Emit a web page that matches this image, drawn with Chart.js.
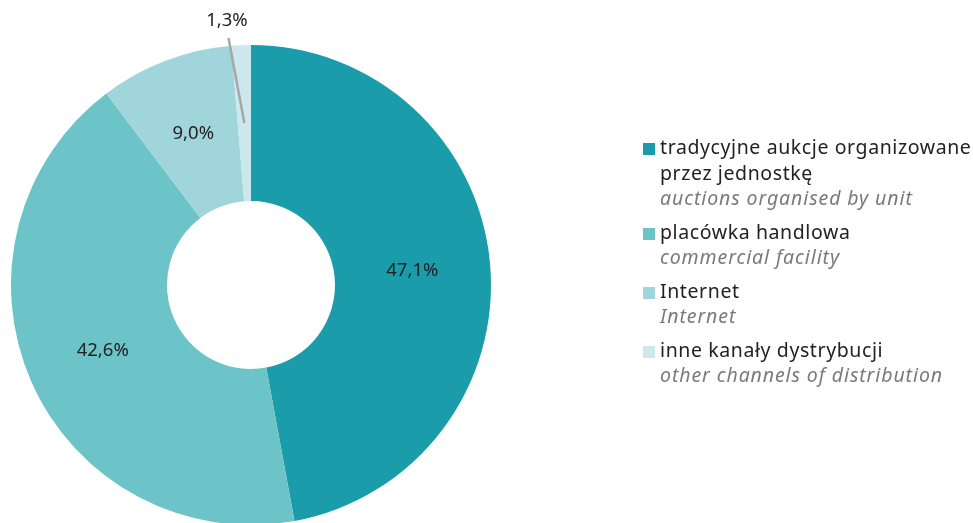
<!DOCTYPE html>
<html>
<head>
<meta charset="utf-8">
<script src="https://cdn.jsdelivr.net/npm/chart.js@4/dist/chart.umd.min.js"></script>
<style>
  html, body { margin: 0; padding: 0; background: #ffffff; }
  #wrap { position: relative; width: 973px; height: 523px; overflow: hidden; }
  #chart { position: absolute; left: 0; top: 0; }
  #legend { position: absolute; left: 643px; top: 134px; font-family: "Noto Sans", sans-serif; }
  .item { position: relative; padding-left: 17px; margin-bottom: 8px; }
  .sw { position: absolute; left: 0; top: 9px; width: 12px; height: 12px; }
  .pl { font-size: 19.5px; line-height: 25.5px; color: #222222; white-space: nowrap; letter-spacing: 0.6px; }
  .en { font-size: 19.5px; line-height: 25.5px; color: #7a7a7a; font-style: italic; white-space: nowrap; letter-spacing: 0.9px; }
</style>
</head>
<body>
<div id="wrap">
  <canvas id="chart" width="973" height="525"></canvas>
  <div id="legend"></div>
</div>
<script>
// Sales channels – shares in percent
const labelsPl = ["tradycyjne aukcje organizowane\nprzez jednostkę", "placówka handlowa", "Internet", "inne kanały dystrybucji"];
const labelsEn = ["auctions organised by unit", "commercial facility", "Internet", "other channels of distribution"];
const shares = [47.1, 42.6, 9.0, 1.3];
const colors = ["#1b9caa", "#6cc4c9", "#a0d5db", "#cce8ec"];

const fmt = v => v.toFixed(1).replace(".", ",") + "%";

// Percentage labels: inside the ring, or pulled outside with a leader line for tiny slices
const sliceLabels = {
  id: "sliceLabels",
  afterDatasetsDraw(chart) {
    const ctx = chart.ctx;
    const meta = chart.getDatasetMeta(0);
    ctx.save();
    ctx.font = '18.5px "Noto Sans", sans-serif';
    ctx.fillStyle = "#222222";
    ctx.textAlign = "center";
    ctx.textBaseline = "middle";
    meta.data.forEach((arc, i) => {
      const v = shares[i];
      const pos = arc.tooltipPosition();
      if (v >= 5) {
        ctx.fillText(fmt(v), pos.x, pos.y);
      } else {
        const mid = (arc.startAngle + arc.endAngle) / 2 - 0.05;
        const r1 = arc.outerRadius + 8;
        const sx = arc.x + Math.cos(mid) * r1;
        const sy = arc.y + Math.sin(mid) * r1;
        ctx.strokeStyle = "#a6a6a6";
        ctx.lineWidth = 2.5;
        ctx.beginPath();
        ctx.moveTo(sx, sy);
        ctx.lineTo(pos.x, pos.y);
        ctx.stroke();
        const r2 = arc.outerRadius + 25;
        ctx.fillText(fmt(v), arc.x + Math.cos(mid) * r2, arc.y + Math.sin(mid) * r2);
      }
    });
    ctx.restore();
  }
};

new Chart(document.getElementById("chart"), {
  type: "doughnut",
  data: {
    labels: labelsPl,
    datasets: [{
      data: shares,
      backgroundColor: colors,
      borderWidth: 0
    }]
  },
  options: {
    responsive: false,
    animation: false,
    cutout: "35%",
    layout: { padding: { left: 11, top: 45, right: 482, bottom: 0 } },
    plugins: { legend: { display: false }, tooltip: { enabled: false } }
  },
  plugins: [sliceLabels]
});

// Bilingual legend
const legend = document.getElementById("legend");
labelsPl.forEach((pl, i) => {
  const item = document.createElement("div");
  item.className = "item";
  const sw = document.createElement("div");
  sw.className = "sw";
  sw.style.background = colors[i];
  item.appendChild(sw);
  pl.split("\n").forEach(line => {
    const d = document.createElement("div");
    d.className = "pl";
    d.textContent = line;
    item.appendChild(d);
  });
  const en = document.createElement("div");
  en.className = "en";
  en.textContent = labelsEn[i];
  item.appendChild(en);
  legend.appendChild(item);
});
</script>
</body>
</html>
